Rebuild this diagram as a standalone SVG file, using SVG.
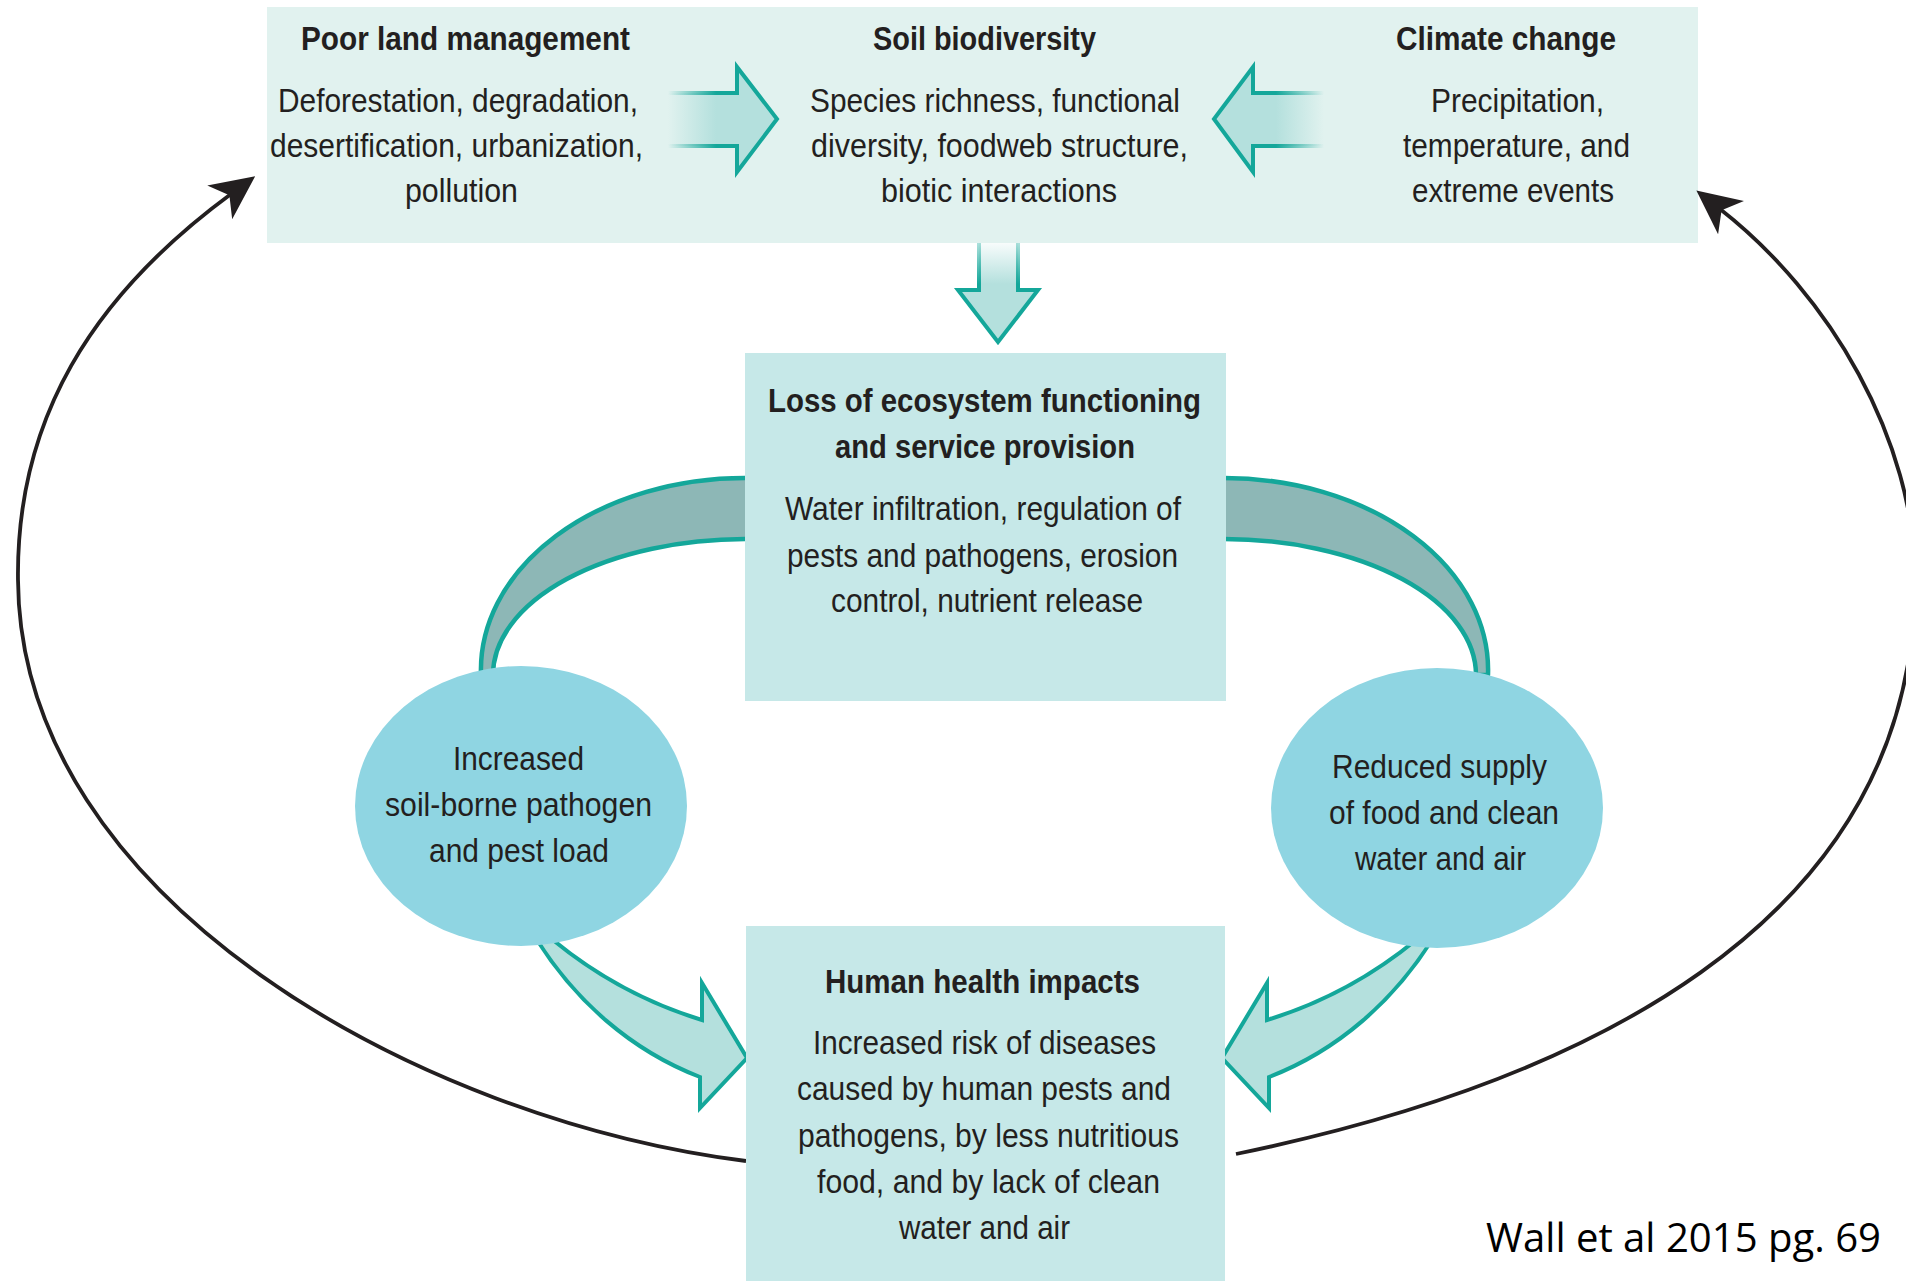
<svg xmlns="http://www.w3.org/2000/svg" width="1906" height="1281" viewBox="0 0 1906 1281">
<defs>
<style>
.t{font-family:"Liberation Sans Narrow","Liberation Sans",Arial,sans-serif;font-size:33px;fill:#231f20}
.h{font-weight:bold}
.ptop{fill:#e1f2ef}
.panel{fill:#c6e8e8}
.oval{fill:#8fd5e2}
.band{fill:#8db7b6;stroke:#14a79a;stroke-width:4.5;stroke-linejoin:round}
.fat{fill:#b4e0dd;stroke:#14a79a;stroke-width:4;stroke-linejoin:miter}
.loop{fill:none;stroke:#231f20;stroke-width:3.8}
.cite{font-family:"Open Sans","Liberation Sans",sans-serif;font-size:41px;fill:#000}
</style>
<linearGradient id="fR" gradientUnits="userSpaceOnUse" x1="668" y1="0" x2="716" y2="0"><stop offset="0" stop-color="#b4e0dd" stop-opacity="0"/><stop offset="1" stop-color="#b4e0dd"/></linearGradient>
<linearGradient id="sR" gradientUnits="userSpaceOnUse" x1="668" y1="0" x2="716" y2="0"><stop offset="0" stop-color="#14a79a" stop-opacity="0"/><stop offset="1" stop-color="#14a79a"/></linearGradient>
<linearGradient id="fL" gradientUnits="userSpaceOnUse" x1="1324" y1="0" x2="1276" y2="0"><stop offset="0" stop-color="#b4e0dd" stop-opacity="0"/><stop offset="1" stop-color="#b4e0dd"/></linearGradient>
<linearGradient id="sL" gradientUnits="userSpaceOnUse" x1="1324" y1="0" x2="1276" y2="0"><stop offset="0" stop-color="#14a79a" stop-opacity="0"/><stop offset="1" stop-color="#14a79a"/></linearGradient>
<linearGradient id="fD" gradientUnits="userSpaceOnUse" x1="0" y1="243" x2="0" y2="284"><stop offset="0" stop-color="#b4e0dd" stop-opacity="0.1"/><stop offset="1" stop-color="#b4e0dd"/></linearGradient>
<linearGradient id="sD" gradientUnits="userSpaceOnUse" x1="0" y1="243" x2="0" y2="284"><stop offset="0" stop-color="#14a79a" stop-opacity="0.35"/><stop offset="1" stop-color="#14a79a"/></linearGradient>
<marker id="ah" markerUnits="userSpaceOnUse" viewBox="-46 -24 50 48" markerWidth="50" markerHeight="48" refX="-30" refY="0" orient="auto"><path d="M0,0 L-44,-21 L-32,0 L-44,21 Z" fill="#231f20"/></marker>
</defs>
<rect width="1906" height="1281" fill="#ffffff"/>

<g id="top-panel"><rect class="ptop" x="267" y="7" width="1431" height="236"/></g>

<g id="connectors">
<path d="M668,93 L737,93 L737,67 L777,119 L737,172 L737,146 L668,146" fill="url(#fR)" stroke="url(#sR)" stroke-width="4" stroke-linejoin="miter"/>
<path d="M1324,93 L1253,93 L1253,67 L1214,119 L1253,172 L1253,146 L1324,146" fill="url(#fL)" stroke="url(#sL)" stroke-width="4" stroke-linejoin="miter"/>
<path d="M979,243 L979,290 L958,290 L998,342 L1038,290 L1018,290 L1018,243" fill="url(#fD)" stroke="url(#sD)" stroke-width="4" stroke-linejoin="miter"/>
<path class="band" d="M752,478 L745,478 A264,192 0 0 0 481,675 L493,675 A253,136 0 0 1 745,539 L752,539 Z"/>
<path class="band" transform="matrix(-1,0,0,1,1969,0)" d="M752,478 L745,478 A264,192 0 0 0 481,675 L493,675 A253,136 0 0 1 745,539 L752,539 Z"/>
<path class="fat" d="M553,940 Q620,995 702,1020 L702,983 L747,1058 L700,1108 L700,1077 C630,1050 575,1000 537,940 Z"/>
<path class="fat" transform="matrix(-1,0,0,1,1969,0)" d="M553,940 Q620,995 702,1020 L702,983 L747,1058 L700,1108 L700,1077 C630,1050 575,1000 537,940 Z"/>
<path class="loop" marker-end="url(#ah)" d="M746,1161 C420,1120 20,900 18,580 C16,420 91,297 231,194"/>
<path class="loop" marker-end="url(#ah)" d="M1236,1154 C1570,1085 1915,930 1915,580 C1915,440 1830,295 1720,209"/>
</g>

<g id="poor-land-management">
<text class="t h" x="301" y="50" textLength="329" lengthAdjust="spacingAndGlyphs">Poor land management</text>
<text class="t" x="278" y="112" textLength="360" lengthAdjust="spacingAndGlyphs">Deforestation, degradation,</text>
<text class="t" x="270" y="157" textLength="373" lengthAdjust="spacingAndGlyphs">desertification, urbanization,</text>
<text class="t" x="405" y="202" textLength="113" lengthAdjust="spacingAndGlyphs">pollution</text>
</g>

<g id="soil-biodiversity">
<text class="t h" x="873" y="50" textLength="223" lengthAdjust="spacingAndGlyphs">Soil biodiversity</text>
<text class="t" x="810" y="112" textLength="370" lengthAdjust="spacingAndGlyphs">Species richness, functional</text>
<text class="t" x="811" y="157" textLength="377" lengthAdjust="spacingAndGlyphs">diversity, foodweb structure,</text>
<text class="t" x="881" y="202" textLength="236" lengthAdjust="spacingAndGlyphs">biotic interactions</text>
</g>

<g id="climate-change">
<text class="t h" x="1396" y="50" textLength="220" lengthAdjust="spacingAndGlyphs">Climate change</text>
<text class="t" x="1431" y="112" textLength="173" lengthAdjust="spacingAndGlyphs">Precipitation,</text>
<text class="t" x="1403" y="157" textLength="227" lengthAdjust="spacingAndGlyphs">temperature, and</text>
<text class="t" x="1412" y="202" textLength="202" lengthAdjust="spacingAndGlyphs">extreme events</text>
</g>

<g id="loss-of-ecosystem-functioning">
<rect class="panel" x="745" y="353" width="481" height="348"/>
<text class="t h" x="768" y="412" textLength="433" lengthAdjust="spacingAndGlyphs">Loss of ecosystem functioning</text>
<text class="t h" x="835" y="458" textLength="300" lengthAdjust="spacingAndGlyphs">and service provision</text>
<text class="t" x="785" y="520" textLength="396" lengthAdjust="spacingAndGlyphs">Water infiltration, regulation of</text>
<text class="t" x="787" y="567" textLength="391" lengthAdjust="spacingAndGlyphs">pests and pathogens, erosion</text>
<text class="t" x="831" y="612" textLength="312" lengthAdjust="spacingAndGlyphs">control, nutrient release</text>
</g>

<g id="pathogen-load">
<ellipse class="oval" cx="521" cy="806" rx="166" ry="140"/>
<text class="t" x="453" y="770" textLength="131" lengthAdjust="spacingAndGlyphs">Increased</text>
<text class="t" x="385" y="816" textLength="267" lengthAdjust="spacingAndGlyphs">soil-borne pathogen</text>
<text class="t" x="429" y="862" textLength="180" lengthAdjust="spacingAndGlyphs">and pest load</text>
</g>

<g id="reduced-supply">
<ellipse class="oval" cx="1437" cy="808" rx="166" ry="140"/>
<text class="t" x="1332" y="778" textLength="215" lengthAdjust="spacingAndGlyphs">Reduced supply</text>
<text class="t" x="1329" y="824" textLength="230" lengthAdjust="spacingAndGlyphs">of food and clean</text>
<text class="t" x="1355" y="870" textLength="171" lengthAdjust="spacingAndGlyphs">water and air</text>
</g>

<g id="human-health-impacts">
<rect class="panel" x="746" y="926" width="479" height="360"/>
<text class="t h" x="825" y="993" textLength="315" lengthAdjust="spacingAndGlyphs">Human health impacts</text>
<text class="t" x="813" y="1054" textLength="343" lengthAdjust="spacingAndGlyphs">Increased risk of diseases</text>
<text class="t" x="797" y="1100" textLength="374" lengthAdjust="spacingAndGlyphs">caused by human pests and</text>
<text class="t" x="798" y="1147" textLength="381" lengthAdjust="spacingAndGlyphs">pathogens, by less nutritious</text>
<text class="t" x="817" y="1193" textLength="343" lengthAdjust="spacingAndGlyphs">food, and by lack of clean</text>
<text class="t" x="899" y="1239" textLength="171" lengthAdjust="spacingAndGlyphs">water and air</text>
</g>

<text class="cite" x="1486" y="1252" textLength="395" lengthAdjust="spacingAndGlyphs">Wall et al 2015 pg. 69</text>
</svg>
